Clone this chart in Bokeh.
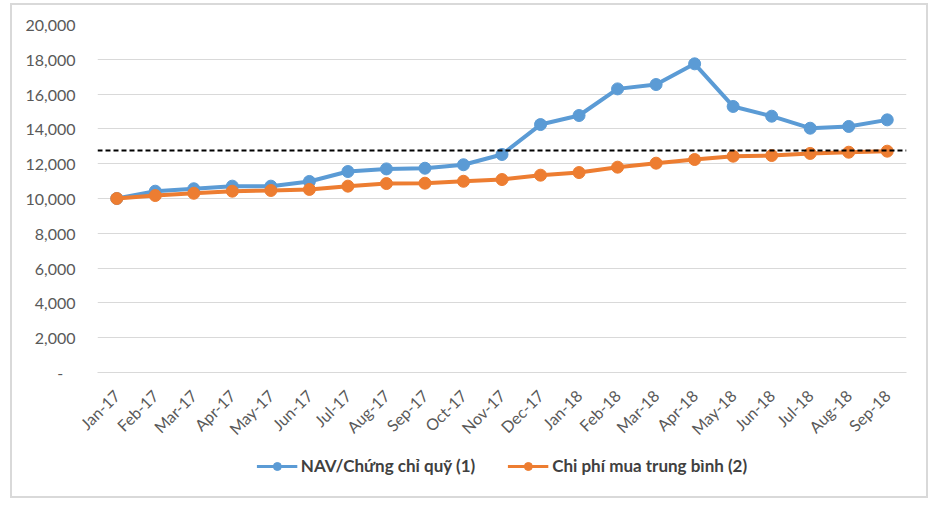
import math
from bokeh.plotting import figure
from bokeh.layouts import column
from bokeh.models import (FactorRange, Range1d, ColumnDataSource, Legend, LegendItem,
                          FixedTicker, Span, InlineStyleSheet)
from bokeh.embed import file_html
from bokeh.resources import INLINE

months = ["Jan-17", "Feb-17", "Mar-17", "Apr-17", "May-17", "Jun-17", "Jul-17",
          "Aug-17", "Sep-17", "Oct-17", "Nov-17", "Dec-17", "Jan-18", "Feb-18",
          "Mar-18", "Apr-18", "May-18", "Jun-18", "Jul-18", "Aug-18", "Sep-18"]
nav = [10000, 10420, 10560, 10710, 10710, 10980, 11550, 11700, 11740, 11940,
       12530, 14250, 14770, 16300, 16550, 17740, 15290, 14730, 14040, 14140, 14520]
avg_cost = [10000, 10170, 10300, 10420, 10460, 10520, 10710, 10860, 10880, 10990,
            11090, 11340, 11490, 11800, 12030, 12240, 12430, 12470, 12590, 12660, 12720]
ref_level = 12760
y_ticks = [0, 2000, 4000, 6000, 8000, 10000, 12000, 14000, 16000, 18000, 20000]
y_tick_labels = ["-\u00a0\u00a0\u00a0", "2,000", "4,000", "6,000", "8,000", "10,000",
                 "12,000", "14,000", "16,000", "18,000", "20,000"]
series_names = ["NAV/Chứng chỉ quỹ (1)", "Chi phí mua trung bình (2)"]

BLUE = "#5B9BD5"
ORANGE = "#ED7D31"
FONT = "Lato"

src = ColumnDataSource(dict(month=months, nav=nav, cost=avg_cost))

# ---- main chart ----
p = figure(width=938, height=449, x_range=FactorRange(*months, range_padding=0),
           y_range=Range1d(y_ticks[0], y_ticks[-1]), output_backend="svg",
           toolbar_location=None, min_border_left=97, min_border_right=32,
           min_border_top=24, min_border_bottom=77)
p.outline_line_color = None
p.background_fill_color = "white"
p.border_fill_color = "white"

p.yaxis.ticker = FixedTicker(ticks=y_ticks)
p.yaxis.major_label_overrides = {t: l for t, l in zip(y_ticks, y_tick_labels)}
p.yaxis.axis_line_color = None
p.yaxis.major_tick_line_color = None
p.yaxis.minor_tick_line_color = None
p.yaxis.major_tick_out = 0
p.yaxis.major_label_standoff = 22
p.xaxis.axis_line_color = "#d9d9d9"
p.xaxis.major_tick_line_color = None
p.xaxis.major_tick_out = 0
p.xaxis.major_label_orientation = math.pi / 4
p.xaxis.major_label_standoff = 20
for ax in (p.xaxis, p.yaxis):
    ax.major_label_text_font = FONT
    ax.major_label_text_font_size = "16px"
    ax.major_label_text_color = "#595959"

p.xgrid.grid_line_color = None
p.ygrid.grid_line_color = "#d9d9d9"
p.ygrid.grid_line_width = 1

p.line("month", "nav", source=src, line_width=4, color=BLUE)
p.scatter("month", "nav", source=src, size=12, color=BLUE)
p.line("month", "cost", source=src, line_width=4, color=ORANGE)
p.scatter("month", "cost", source=src, size=12, color=ORANGE)

# reference dashed line
p.add_layout(Span(location=ref_level, dimension="width", line_color="black",
                  line_width=2, line_dash="5 3"))

# ---- legend strip (same series; data lies outside this strip's view) ----
lg = figure(width=938, height=60, x_range=FactorRange(*months, range_padding=0),
            y_range=Range1d(-2, -1), output_backend="svg", toolbar_location=None,
            x_axis_location=None, y_axis_location=None,
            min_border_left=0, min_border_right=0, min_border_top=0, min_border_bottom=0)
lg.outline_line_color = None
lg.grid.visible = False
lg.border_fill_color = "white"
lg.background_fill_color = "white"
ll1 = lg.line("month", "nav", source=src, line_width=3, color=BLUE)
ls1 = lg.scatter("month", "nav", source=src, size=9, color=BLUE)
ll2 = lg.line("month", "cost", source=src, line_width=3, color=ORANGE)
ls2 = lg.scatter("month", "cost", source=src, size=9, color=ORANGE)

legend = Legend(items=[LegendItem(label=series_names[0], renderers=[ll1, ls1]),
                       LegendItem(label=series_names[1], renderers=[ll2, ls2])],
                orientation="horizontal", location="top_center",
                border_line_color=None, background_fill_alpha=0,
                label_text_font=FONT, label_text_font_style="bold",
                label_text_font_size="17px", label_text_color="#404040",
                glyph_width=41, label_standoff=4, spacing=32, margin=6)
lg.add_layout(legend)

layout = column(p, lg, spacing=0)
layout.stylesheets = [InlineStyleSheet(css=""":host::after { content: ""; position: absolute;
  left: 10px; top: 3px; width: 914px; height: 491px; border: 2px solid #d9d9d9;
  pointer-events: none; z-index: 5; }""")]

open("out.html", "w").write(file_html(layout, INLINE))
